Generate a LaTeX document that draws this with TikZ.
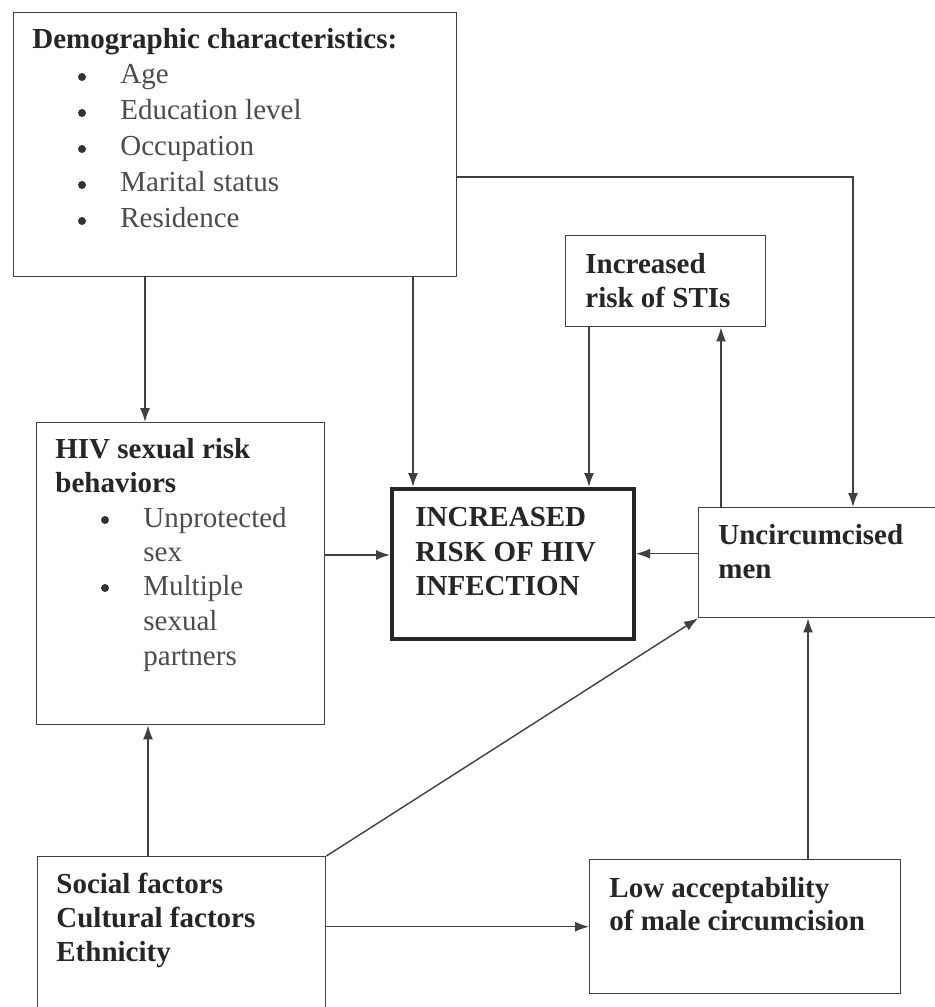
\documentclass[tikz,border=0pt]{standalone}
\usepackage{fontspec}
\setmainfont{Liberation Serif}
\usetikzlibrary{arrows.meta}

\begin{document}
\begin{tikzpicture}[x=0.5pt,y=-0.5pt]
        \tikzstyle{box} = [draw=black!75,line width=0.7pt,anchor=north west,inner sep=0pt]
        \tikzstyle{head} = [anchor=base west,inner sep=0pt,text=black!85,font=\fontsize{14.5}{17}\selectfont\bfseries]
        \tikzstyle{item} = [anchor=base west,inner sep=0pt,text=black!70,font=\fontsize{14.5}{17}\selectfont]
        \tikzstyle{arr} = [draw=black!75,line width=0.7pt,-{Latex[length=7pt,width=5pt]}]
        \useasboundingbox (0,0) rectangle (935,1007);
        \clip (0,0) rectangle (935,1007);
        \fill[white] (0,0) rectangle (935,1007);
        % boxes
        \node[box,minimum width=221.5pt,minimum height=132pt] (demo) at (13,12) {};
        \node[box,minimum width=100pt,minimum height=45.5pt] (sti) at (565,235) {};
        \node[box,minimum width=144pt,minimum height=151pt] (hiv) at (36,422) {};
        \node[box,draw=black!85,line width=2pt,minimum width=121pt,minimum height=75pt] (risk) at (390,487) {};
        \node[box,minimum width=125pt,minimum height=55pt] (uncirc) at (698,507) {};
        \node[box,minimum width=144pt,minimum height=90pt] (social) at (37,856) {};
        \node[box,minimum width=155.5pt,minimum height=67pt] (low) at (589,859) {};
        % texts
        \node[head] (demot) at (32,48) {Demographic characteristics:};
        \foreach \t [count=\i] in {Age, Education level, Occupation, Marital status, Residence}{
          \fill[black!80] (82,41+36*\i) circle (2pt);
          \node[item] (demo\i) at (120,47+36*\i) {\t};
        }
        \foreach \y/\t [count=\i] in {458/HIV sexual risk, 492/behaviors}
          \node[head] (hivt\i) at (55,\y) {\t};
        \foreach \y/\t [count=\i] in {527/Unprotected, 561/sex, 595/Multiple, 630/sexual, 665/partners}
          \node[item] (hiv\i) at (143,\y) {\t};
        \foreach \y in {520,588}
          \fill[black!80] (105,\y) circle (2pt);
        \foreach \y/\t [count=\i] in {526/INCREASED, 561/RISK OF HIV, 595/INFECTION}
          \node[head] (risk\i) at (415,\y) {\t};
        \foreach \y/\t [count=\i] in {273/Increased, 307/risk of STIs}
          \node[head] (sti\i) at (585,\y) {\t};
        \foreach \y/\t [count=\i] in {544/Uncircumcised, 578/men}
          \node[head] (uncirc\i) at (718,\y) {\t};
        \foreach \y/\t [count=\i] in {893/Social factors, 927/Cultural factors, 961/Ethnicity}
          \node[head] (social\i) at (56,\y) {\t};
        \foreach \y/\t [count=\i] in {897/Low acceptability, 930/of male circumcision}
          \node[head] (low\i) at (609,\y) {\t};
        % arrows
        \draw[arr] ([xshift=66pt]demo.south west) -- ([xshift=66pt]demo.south west |- hiv.north);
        \draw[arr] ([xshift=200pt]demo.south west) -- ([xshift=200pt]demo.south west |- risk.north);
        \draw[arr] ([yshift=-82.5pt]demo.north east) -| ([xshift=77.5pt]uncirc.north west);
        \draw[arr] ([xshift=12pt]sti.south west) -- ([xshift=12pt]sti.south west |- risk.north);
        \draw[arr] ([xshift=11.5pt]uncirc.north west) -- ([xshift=11.5pt]uncirc.north west |- sti.south);
        \draw[arr] ([yshift=4.5pt]risk.west -| hiv.east) -- ([yshift=4.5pt]risk.west);
        \draw[arr] ([yshift=4.5pt]uncirc.west) -- ([yshift=4.5pt]uncirc.west -| risk.east);
        \draw[arr] ([xshift=55.5pt]social.north west) -- ([xshift=55.5pt]social.north west |- hiv.south);
        \draw[arr] (social.north east) -- (uncirc.south west);
        \draw[arr] (social.east |- low.west) -- (low.west);
        \draw[arr] ([xshift=109.5pt]low.north west) -- ([xshift=109.5pt]low.north west |- uncirc.south);
      \end{tikzpicture}
\end{document}
